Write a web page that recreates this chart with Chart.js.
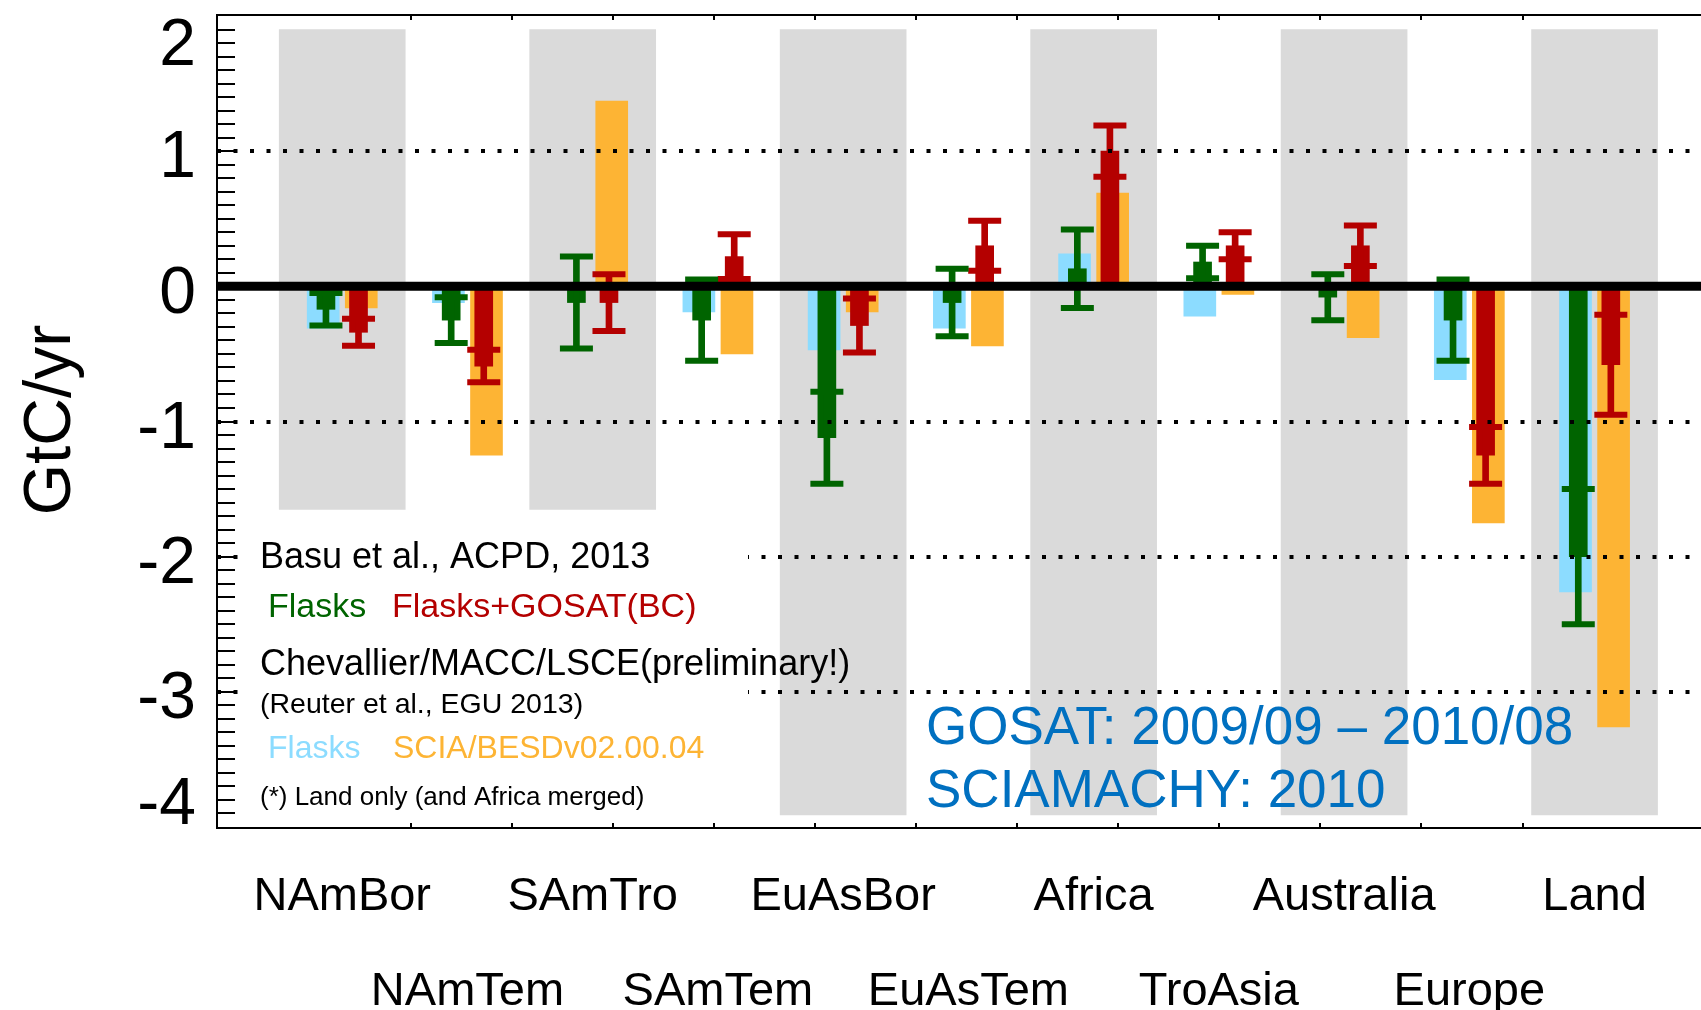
<!DOCTYPE html>
<html>
<head>
<meta charset="utf-8">
<title>GtC/yr regional fluxes</title>
<script src="https://cdn.jsdelivr.net/npm/chart.js@4.4.1/dist/chart.umd.min.js"></script>
<style>
  html, body { margin: 0; padding: 0; background: #fff; }
  #wrap { width: 1701px; height: 1010px; }
</style>
</head>
<body>
<div id="wrap"><canvas id="fluxChart" width="1701" height="1010"></canvas></div>
<script>
const REGIONS = ['NAmBor', 'NAmTem', 'SAmTro', 'SAmTem', 'EuAsBor', 'EuAsTem',
                 'Africa', 'TroAsia', 'Australia', 'Europe', 'Land'];

// Chevallier/MACC/LSCE (Reuter et al., EGU 2013)
const chevFlasks = [-0.31, -0.12, 0, -0.19, -0.47, -0.31, 0.24, -0.22, 0, -0.69, -2.26];
const sciaBesd   = [-0.16, -1.25, 1.37, -0.50, -0.19, -0.44, 0.69, -0.06, -0.38, -1.75, -3.26];

// Basu et al., ACPD, 2013 : mean and 1-sigma
const basuFlasks    = [-0.17, -0.25, -0.12, -0.25, -1.12, -0.12, 0.13, 0.18, -0.08, -0.25, -2.00];
const basuFlasksErr = [0.12, 0.17, 0.34, 0.30, 0.34, 0.25, 0.29, 0.12, 0.17, 0.30, 0.50];
const basuGosat     = [-0.34, -0.59, -0.12, 0.22, -0.29, 0.30, 1.00, 0.30, 0.30, -1.25, -0.58];
const basuGosatErr  = [0.10, 0.12, 0.21, 0.165, 0.20, 0.185, 0.19, 0.10, 0.15, 0.21, 0.37];

// grey background bands behind every other region
const bandLow  = [-1.65, null, -1.65, null, -3.91, null, -3.91, null, -3.91, null, -3.91];
const bandHigh = [1.9, null, 1.9, null, 1.9, null, 1.9, null, 1.9, null, 1.9];

const Y_TICKS = [2, 1, 0, -1, -2, -3, -4];
const DOTTED_LEVELS = [1, -1, -2, -3];

const COLORS = {
  chev: '#8cdcff',
  scia: '#fdb434',
  flasks: '#006400',
  gosat: '#b40000',
  band: '#dadada',
  note: '#0070c0'
};
const FONT = "'Liberation Sans', Arial, Helvetica, sans-serif";

function barPoints(values, shift) {
  return values.map((v, i) => ({ x: i + shift, y: v }));
}
function errorRange(means, errs, shift) {
  return means.map((m, i) => ({ x: i + shift, y: [m - errs[i], m + errs[i]] }));
}
function errorCaps(means, errs, shift) {
  const caps = [];
  means.forEach((m, i) => {
    caps.push({ x: i + shift, y: m - errs[i] });
    caps.push({ x: i + shift, y: m + errs[i] });
  });
  return caps;
}
function bandPoints() {
  const pts = [];
  REGIONS.forEach((r, i) => {
    if (bandLow[i] !== null) pts.push({ x: i, y: [bandLow[i], bandHigh[i]] });
  });
  return pts;
}

function drawText(ctx, str, px, py, size, color, align) {
  ctx.font = size + 'px ' + FONT;
  ctx.fillStyle = color;
  ctx.textAlign = align || 'left';
  ctx.fillText(str, px, py);
}

// axes frame, ticks, reference lines and all the texts
const frameAndText = {
  id: 'frameAndText',
  afterDatasetsDraw(chart) {
    const { ctx, chartArea: a } = chart;
    const x = chart.scales.x, y = chart.scales.y, xt = chart.scales.xt;
    ctx.save();

    // dotted reference lines
    ctx.strokeStyle = '#000';
    ctx.lineWidth = 4;
    ctx.setLineDash([4, 12.5]);
    DOTTED_LEVELS.forEach(v => {
      const py = Math.round(y.getPixelForValue(v));
      ctx.beginPath();
      ctx.moveTo(a.left, py);
      ctx.lineTo(a.right, py);
      ctx.stroke();
    });
    ctx.setLineDash([]);

    // white box behind the legend interrupts the dotted lines
    ctx.fillStyle = '#fff';
    ctx.fillRect(241, 522, 507, 300);

    // thick zero line
    const y0 = y.getPixelForValue(0);
    ctx.lineWidth = 9;
    ctx.beginPath();
    ctx.moveTo(a.left, y0);
    ctx.lineTo(a.right, y0);
    ctx.stroke();

    // frame
    ctx.lineWidth = 2;
    ctx.beginPath();
    ctx.moveTo(a.right, a.top - 1);
    ctx.lineTo(a.left, a.top - 1);
    ctx.lineTo(a.left, a.bottom + 1);
    ctx.lineTo(a.right, a.bottom + 1);
    ctx.stroke();

    // minor ticks on the y axis, every 0.1
    for (let k = 1; k < 60; k++) {
      const py = Math.round(y.getPixelForValue(-4 + k * 0.1));
      ctx.beginPath();
      ctx.moveTo(a.left, py);
      ctx.lineTo(a.left + 18, py);
      ctx.stroke();
    }
    // top and bottom ticks
    for (let k = 1; k <= 12; k++) {
      const px = Math.round(xt.getPixelForValue(k));
      ctx.beginPath();
      ctx.moveTo(px, a.top - 1);
      ctx.lineTo(px, a.top + 4);
      ctx.moveTo(px, a.bottom + 1);
      ctx.lineTo(px, a.bottom - 4);
      ctx.stroke();
    }

    // y tick labels
    ctx.textBaseline = 'middle';
    Y_TICKS.forEach(v => {
      let py = y.getPixelForValue(v) + 8;
      py = Math.min(Math.max(py, a.top + 31), a.bottom - 21);
      drawText(ctx, String(v), 196, py, 66, '#000', 'right');
    });

    // y axis title
    ctx.textBaseline = 'alphabetic';
    ctx.save();
    ctx.translate(70, 420);
    ctx.rotate(-Math.PI / 2);
    drawText(ctx, 'GtC/yr', 0, 0, 66, '#000', 'center');
    ctx.restore();

    // region labels, staggered on two rows
    REGIONS.forEach((name, i) => {
      const px = x.getPixelForValue(i);
      drawText(ctx, name, px, i % 2 === 0 ? 910 : 1005, 47, '#000', 'center');
    });

    // legend
    drawText(ctx, 'Basu et al., ACPD, 2013', 260, 568, 36, '#000');
    drawText(ctx, 'Flasks', 268, 617, 34, COLORS.flasks);
    drawText(ctx, 'Flasks+GOSAT(BC)', 392, 617, 34, COLORS.gosat);
    drawText(ctx, 'Chevallier/MACC/LSCE(preliminary!)', 260, 675, 36, '#000');
    drawText(ctx, '(Reuter et al., EGU 2013)', 260, 713, 28.5, '#000');
    drawText(ctx, 'Flasks', 268, 758, 32, COLORS.chev);
    drawText(ctx, 'SCIA/BESDv02.00.04', 393, 758, 32, COLORS.scia);
    drawText(ctx, '(*) Land only (and Africa merged)', 260, 805, 26, '#000');

    // period note
    drawText(ctx, 'GOSAT: 2009/09 \u2013 2010/08', 926, 744, 53, COLORS.note);
    drawText(ctx, 'SCIAMACHY: 2010', 926, 807, 53, COLORS.note);

    ctx.restore();
  }
};

const GLYPH_SHIFT = 0.13;
const BAR_SHIFT = 0.152;

new Chart(document.getElementById('fluxChart'), {
  type: 'bar',
  data: {
    datasets: [
      { label: 'bands', data: bandPoints(), backgroundColor: COLORS.band,
        barThickness: 126, grouped: false, order: 10 },
      { label: 'Chevallier Flasks', data: barPoints(chevFlasks, -BAR_SHIFT), backgroundColor: COLORS.chev,
        barThickness: 32, grouped: false, order: 9 },
      { label: 'SCIA/BESDv02.00.04', data: barPoints(sciaBesd, BAR_SHIFT), backgroundColor: COLORS.scia,
        barThickness: 32, grouped: false, order: 9 },
      { label: 'Flasks', data: barPoints(basuFlasks, -GLYPH_SHIFT), backgroundColor: COLORS.flasks,
        barThickness: 18, grouped: false, order: 8 },
      { label: 'Flasks+GOSAT(BC)', data: barPoints(basuGosat, GLYPH_SHIFT), backgroundColor: COLORS.gosat,
        barThickness: 18, grouped: false, order: 8 },
      { label: 'Flasks err', data: errorRange(basuFlasks, basuFlasksErr, -GLYPH_SHIFT), backgroundColor: COLORS.flasks,
        barThickness: 6, grouped: false, order: 7 },
      { label: 'Flasks+GOSAT err', data: errorRange(basuGosat, basuGosatErr, GLYPH_SHIFT), backgroundColor: COLORS.gosat,
        barThickness: 6, grouped: false, order: 7 },
      { type: 'line', label: 'Flasks caps', data: errorCaps(basuFlasks, basuFlasksErr, -GLYPH_SHIFT),
        showLine: false, pointStyle: 'line', pointRadius: 16.5, pointHoverRadius: 16.5,
        pointBorderWidth: 6, pointBorderColor: COLORS.flasks, borderColor: COLORS.flasks, order: 6 },
      { type: 'line', label: 'Flasks+GOSAT caps', data: errorCaps(basuGosat, basuGosatErr, GLYPH_SHIFT),
        showLine: false, pointStyle: 'line', pointRadius: 16.5, pointHoverRadius: 16.5,
        pointBorderWidth: 6, pointBorderColor: COLORS.gosat, borderColor: COLORS.gosat, order: 6 }
    ]
  },
  options: {
    responsive: false,
    animation: false,
    events: [],
    layout: { autoPadding: false, padding: { left: 217, top: 16, right: 0, bottom: 183 } },
    plugins: { legend: { display: false }, tooltip: { enabled: false } },
    scales: {
      x: { type: 'linear', min: -1.0, max: 10.85, offset: false, display: false },
      xt: { type: 'linear', axis: 'x', position: 'bottom', min: 0, max: 12.848, display: false },
      y: { type: 'linear', min: -4, max: 2, display: false }
    }
  },
  plugins: [frameAndText]
});
</script>
</body>
</html>
